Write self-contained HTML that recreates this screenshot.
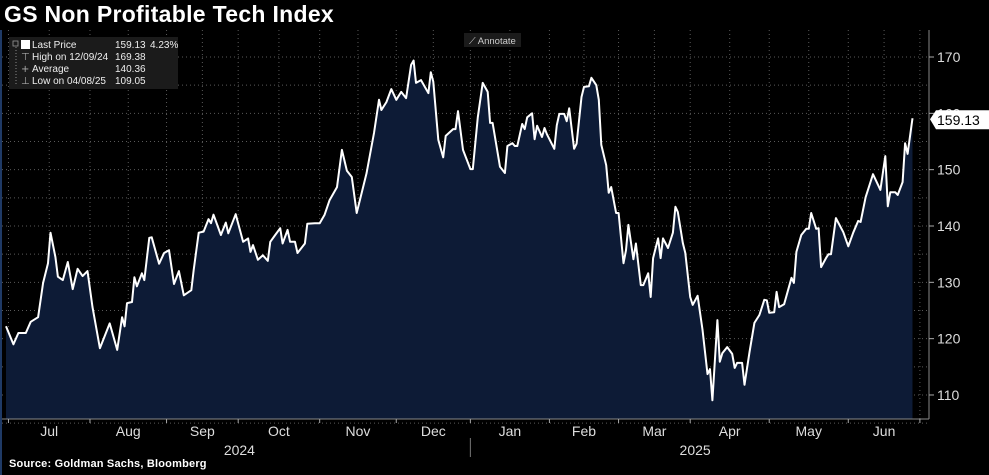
<!DOCTYPE html>
<html><head><meta charset="utf-8">
<style>
html,body{margin:0;padding:0;background:#000;}
body{width:989px;height:475px;overflow:hidden;position:relative;font-family:"Liberation Sans",sans-serif;}
#title{position:absolute;left:4px;top:1px;color:#fff;font-weight:bold;font-size:23px;letter-spacing:0.3px;}
#src{position:absolute;left:9px;top:458px;color:#fff;font-weight:bold;font-size:11px;letter-spacing:0.2px;}
</style></head>
<body>
<div id="title">GS Non Profitable Tech Index</div>
<svg id="chart" width="989" height="475" style="position:absolute;left:0;top:0"></svg>
<div id="src">Source: Goldman Sachs, Bloomberg</div>
<script>
const days=[0,3,5,8,10,13,15,17,18,20,21,23,25,27,29,31,33,35,38,42,45,47,48,49,51,52,53,55,56,58,59,62,64,66,68,70,72,75,76,78,80,82,83,84,87,89,90,93,96,98,99,100,102,104,106,107,109,111,112,114,115,117,118,121,122,125,127,129,131,134,136,138,140,142,146,149,151,152,154,156,158,160,162,164,165,166,168,171,172,173,175,177,178,181,182,183,185,188,189,191,193,195,196,197,200,202,203,205,206,207,209,210,211,213,214,215,217,218,219,222,223,224,226,227,228,230,231,233,234,236,237,239,240,241,243,244,245,247,248,250,251,252,254,255,257,258,260,261,262,264,265,266,268,270,271,272,274,275,277,278,280,282,284,285,286,288,289,290,292,294,295,296,298,299,301,303,305,307,308,309,311,312,313,315,318,319,320,322,324,325,326,328,329,330,332,333,334,336,339,341,343,345,346,348,351,354,356,357,358,360,361,363,364,365,367];
const prices=[122.2,119.0,121.0,121.0,123.0,123.8,129.9,133.4,138.8,134.5,131.0,130.4,133.6,128.8,132.4,131.1,132.0,125.6,118.3,122.7,118.0,123.8,122.2,126.3,126.5,130.9,129.3,131.6,130.4,137.9,138.0,133.3,135.2,135.7,129.7,132.0,127.7,128.6,132.2,138.8,139.0,141.2,140.5,142.0,138.4,140.6,138.7,142.1,137.2,137.8,135.4,136.6,134.0,134.8,133.8,137.2,138.4,139.6,136.9,139.3,137.2,137.2,135.2,136.9,140.4,140.5,140.5,142.0,144.6,146.9,153.5,149.8,148.7,142.3,149.4,156.5,162.4,160.6,162.0,164.3,162.4,163.8,162.7,168.6,169.38,165.4,165.9,163.6,167.3,165.6,155.3,152.2,156.0,157.2,157.2,160.4,153.5,150.1,150.1,159.3,165.4,163.8,158.3,158.3,150.5,149.4,154.2,154.7,154.2,154.2,158.1,157.2,159.3,160.0,155.4,157.8,155.8,157.4,156.3,153.7,157.9,159.9,159.9,158.6,160.9,153.7,154.6,162.9,164.7,164.8,166.3,165.0,162.4,154.4,150.8,145.9,146.9,142.3,142.3,133.4,135.7,140.2,134.1,136.9,129.5,129.5,131.6,127.4,134.3,137.8,134.3,137.8,136.1,138.8,143.4,142.5,137.0,135.2,127.4,126.0,127.6,121.6,113.7,114.6,109.05,123.3,115.9,117.4,118.5,117.3,114.8,115.7,115.7,111.8,117.6,122.8,124.2,126.9,126.8,124.6,124.7,128.3,125.6,126.1,130.8,129.9,135.4,138.4,139.5,139.5,142.3,139.5,139.6,132.7,134.3,135.0,135.0,141.4,138.9,136.4,138.8,140.9,140.7,145.1,149.2,146.4,152.4,143.5,146.0,146.0,145.5,147.8,154.7,152.8,159.13];
const monthLabels=["Jul","Aug","Sep","Oct","Nov","Dec","Jan","Feb","Mar","Apr","May","Jun"];
const monthStarts=[1,34,65,94,127,158,188,220,248,277,309,341,370];
const yTicks=[110,120,130,140,150,160,170];
const years=["2024","2025"];

const NS="http://www.w3.org/2000/svg";
const svg=document.getElementById('chart');
const X0=6,XS=2.47,Y170=57,YS=5.633,PB=419,PR=929;
const x=d=>X0+d*XS;
const y=v=>Y170+(170-v)*YS;
function mk(t,a,p){const e=document.createElementNS(NS,t);for(const k in a)e.setAttribute(k,a[k]);(p||svg).appendChild(e);return e;}

for(let v=105;v<=170;v+=5){
  const g=mk('line',{x1:2,x2:PR,y1:y(v),y2:y(v),stroke:'#5a5a5a','stroke-width':1,'stroke-dasharray':'1,3'});
  
  
}
for(let i=0;i<monthStarts.length;i++){
  const ds=[monthStarts[i]];
  if(i<monthStarts.length-1) ds.push((monthStarts[i]+monthStarts[i+1])/2);
  ds.forEach(d=>{
    const g=mk('line',{x1:x(d),x2:x(d),y1:30,y2:PB,stroke:'#5a5a5a','stroke-width':1,'stroke-dasharray':'1,3'});
    
    
  });
}
let pts=days.map((d,i)=>x(d).toFixed(1)+','+y(prices[i]).toFixed(1));
const area=mk('path',{d:'M'+x(days[0])+','+PB+' L'+pts.join(' L')+' L'+x(days[days.length-1])+','+PB+' Z',fill:'#0d1b36'});


const line=mk('polyline',{points:pts.join(' '),fill:'none',stroke:'#fff','stroke-width':2,'stroke-linejoin':'round'});



const xa=mk('line',{x1:2,x2:PR,y1:PB,y2:PB,stroke:'#888','stroke-width':1});


const ya=mk('line',{x1:PR,x2:PR,y1:30,y2:PB,stroke:'#888','stroke-width':1});


const lb=mk('rect',{x:0,y:30,width:2,height:445,fill:'#1f3a66'});



yTicks.forEach(v=>{
  const t=mk('line',{x1:PR,x2:PR+5,y1:y(v),y2:y(v),stroke:'#aaa'});
  
  
  const l=mk('text',{x:937,y:y(v)+5,fill:'#ddd','font-size':14,'font-family':'Liberation Sans, sans-serif'});
  l.textContent=v;
  
  
});
monthStarts.forEach(d=>{
  const t=mk('line',{x1:x(d),x2:x(d),y1:PB,y2:PB+4,stroke:'#aaa'});
  
  
});
monthLabels.forEach((m,i)=>{
  const c=x((monthStarts[i]+monthStarts[i+1])/2);
  const l=mk('text',{x:c,y:436,fill:'#ddd','font-size':14,'text-anchor':'middle','font-family':'Liberation Sans, sans-serif'});
  l.textContent=m;
  
  
});
const ycs=[x((monthStarts[0]+monthStarts[6])/2), x((monthStarts[6]+monthStarts[12])/2)];
years.forEach((yr,i)=>{
  const l=mk('text',{x:ycs[i],y:455,fill:'#ddd','font-size':14,'text-anchor':'middle','font-family':'Liberation Sans, sans-serif'});
  l.textContent=yr;
  
  
});
const sep=mk('line',{x1:x(monthStarts[6]),x2:x(monthStarts[6]),y1:438,y2:457,stroke:'#777'});



const lp=prices[prices.length-1], ly=y(lp)+1;
const tag=mk('path',{d:`M930,${ly} L936,${ly-9} L989,${ly-9} L989,${ly+10} L936,${ly+10} Z`,fill:'#fff'});


const tt=mk('text',{x:937,y:ly+6,fill:'#000','font-size':14,'font-family':'Liberation Sans, sans-serif'});
tt.textContent=lp.toFixed(2);



const lg=mk('g',{});


mk('rect',{x:9,y:37,width:169,height:52,fill:'#1b1b1b'},lg);
mk('rect',{x:21,y:40,width:9,height:9,fill:'#fff'},lg);
mk('rect',{x:13,y:41,width:5,height:5,fill:'none',stroke:'#999','stroke-width':0.8},lg);
mk('line',{x1:16,x2:16,y1:47,y2:84,stroke:'#888','stroke-dasharray':'1,2'},lg);
const rows=[["Last Price","159.13","4.23%"],["High on 12/09/24","169.38",""],["Average","140.36",""],["Low on 04/08/25","109.05",""]];
const icons=["","⊤","+","⊥"];
rows.forEach((r,i)=>{
  const yy=48+i*12;
  if(i>0){const ic=mk('text',{x:21,y:yy,fill:'#aaa','font-size':10,'font-family':'DejaVu Sans, sans-serif'},lg);ic.textContent=icons[i];}
  const a=mk('text',{x:32,y:yy,fill:'#eee','font-size':10,'font-family':'Liberation Sans, sans-serif'},lg);a.textContent=r[0];
  
  
  const b=mk('text',{x:115,y:yy,fill:'#eee','font-size':10,'font-family':'Liberation Sans, sans-serif'},lg);b.textContent=r[1];
  if(r[2]){const c=mk('text',{x:150,y:yy,fill:'#eee','font-size':10,'font-family':'Liberation Sans, sans-serif'},lg);c.textContent=r[2];}
});
const ab=mk('g',{});


mk('rect',{x:464,y:33,width:57,height:14,fill:'#1b1b1b'},ab);
const at=mk('text',{x:469,y:44,fill:'#ccc','font-size':9.5,'font-family':'Liberation Sans, sans-serif'},ab);
at.textContent='⟋ Annotate';
</script>
</body></html>
